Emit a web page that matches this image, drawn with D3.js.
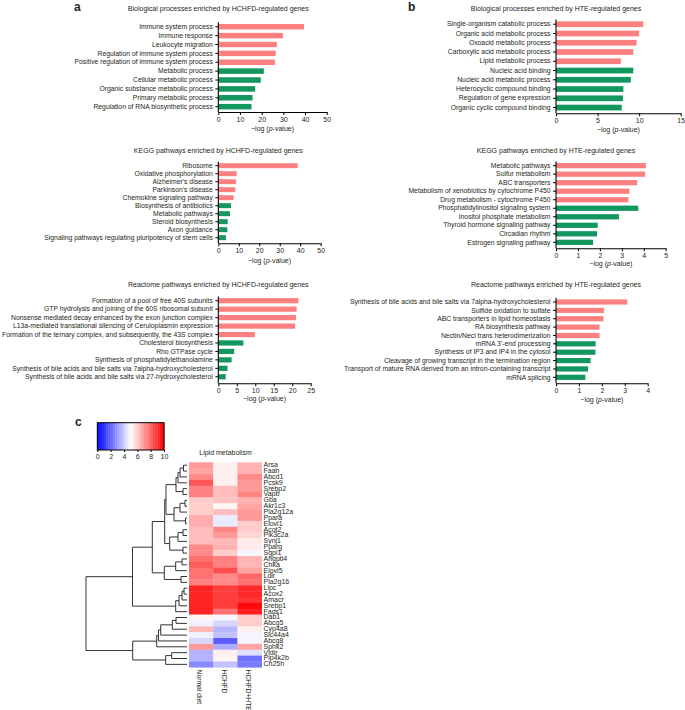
<!DOCTYPE html>
<html><head><meta charset="utf-8">
<script src="https://cdn.jsdelivr.net/npm/d3@7"></script>
<style>
body{margin:0;background:#fff}
svg{display:block}
text{font-family:"Liberation Sans",Arial,Helvetica,sans-serif;fill:#231f20}
</style>
</head><body>
<svg id="chart" width="685" height="710"></svg>
<script>
// ---------------- DATA ----------------
const groupsUpDown = ["up","up","up","up","up","down","down","down","down","down"];

const bpHCHFDTerms = ["Immune system process","Immune response","Leukocyte migration","Regulation of immune system process","Positive regulation of immune system process","Metabolic process","Cellular metabolic process","Organic substance metabolic process","Primary metabolic process","Regulation of RNA biosynthetic process"];
const bpHCHFDValues = [39.5, 29.8, 27.0, 26.5, 26.1, 21.0, 19.6, 17.0, 15.8, 15.3];
const bpHCHFDTicks = [0,10,20,30,40,50];

const bpHTETerms = ["Single-organism catabolic process","Organic acid metabolic process","Oxoacid metabolic process","Carboxylic acid metabolic process","Lipid metabolic process","Nucleic acid binding","Nucleic acid metabolic process","Heterocyclic compound binding","Regulation of gene expression","Organic cyclic compound binding"];
const bpHTEValues = [10.5, 10.0, 9.7, 9.3, 7.8, 9.3, 9.0, 8.1, 8.05, 7.9];
const bpHTETicks = [0,5,10,15];

const keggHCHFDTerms = ["Ribosome","Oxidative phosphorylation","Alzheimer's disease","Parkinson's disease","Chemokine signaling pathway","Biosynthesis of antibiotics","Metabolic pathways","Steroid biosynthesis","Axon guidance","Signaling pathways regulating pluripotency of stem cells"];
const keggHCHFDValues = [38.8, 9.0, 8.6, 8.3, 7.5, 6.2, 5.7, 4.6, 4.4, 3.7];
const keggHCHFDTicks = [0,10,20,30,40,50];

const keggHTETerms = ["Metabolic pathways","Sulfur metabolism","ABC transporters","Metabolism of xenobiotics by cytochrome P450","Drug metabolism - cytochrome P450","Phosphatidylinositol signaling system","Inositol phosphate metabolism","Thyroid hormone signaling pathway","Circadian rhythm","Estrogen signaling pathway"];
const keggHTEValues = [4.1, 4.06, 3.7, 3.35, 3.3, 3.75, 2.87, 1.9, 1.87, 1.69];
const keggHTETicks = [0,1,2,3,4,5];

const reactHCHFDTerms = ["Formation of a pool of free 40S subunits","GTP hydrolysis and joining of the 60S ribosomal subunit","Nonsense mediated decay enhanced by the exon junction complex","L13a-mediated translational silencing of Ceruloplasmin expression","Formation of the ternary complex, and subsequently, the 43S complex","Cholesterol biosynthesis","Rho GTPase cycle","Synthesis of phosphatidylethanolamine","Synthesis of bile acids and bile salts via 7alpha-hydroxycholesterol","Synthesis of bile acids and bile salts via 27-hydroxycholesterol"];
const reactHCHFDValues = [21.7, 21.2, 21.0, 20.8, 9.9, 6.8, 4.3, 3.6, 2.5, 2.0];
const reactHCHFDTicks = [0,5,10,15,20,25];

const reactHTETerms = ["Synthesis of bile acids and bile salts via 7alpha-hydroxycholesterol","Sulfide oxidation to sulfate","ABC transporters in lipid homeostasis","RA biosynthesis pathway","Nectin/Necl trans heterodimerization","mRNA 3'-end processing","Synthesis of IP3 and IP4 in the cytosol","Cleavage of growing transcript in the termination region","Transport of mature RNA derived from an intron-containing transcript","mRNA splicing"];
const reactHTEValues = [3.11, 2.09, 2.07, 1.9, 1.9, 1.73, 1.72, 1.51, 1.4, 1.28];
const reactHTETicks = [0,1,2,3,4];

const conditions = ["Normal diet","HCHFD","HCHFD+HTE"];
const genes = ["Arsa","Faah","Abcd1","Pcsk9","Srebp2","Vapb","Gba","Akr1c3","Pla2g12a","Ppara","Elovl1","Acot2","Pik3c2a","Synj1","Pparg","Sgpl1","Angptl4","Chka","Elovl5","Ldlr","Pla2g16","Lipc","Acox2","Amacr","Srebp1","Fads1","Dab1","Abcg5","Cyp4a8","Slc44a4","Abcg8","Sphk2","Vldlr","Pip4k2b","Ch25h"];
const expression = [
 [7.0,5.3,6.5],[6.8,5.3,6.5],[7.3,5.3,7.3],[8.3,5.3,7.0],[7.5,6.3,7.0],[7.5,6.3,7.4],
 [6.0,6.2,6.5],[6.0,5.2,6.8],[6.0,6.3,7.0],[6.6,4.6,7.0],[6.6,4.6,6.0],
 [6.3,7.4,6.0],[6.3,7.0,5.8],[6.3,6.4,5.4],[7.3,6.5,5.4],[7.3,6.0,4.8],
 [7.8,7.5,6.5],[8.2,7.5,6.4],[7.8,8.5,6.8],[7.8,7.3,8.0],[7.5,7.3,7.8],
 [9.3,8.8,9.2],[9.3,8.8,9.2],[9.3,8.8,9.0],[9.3,8.8,9.8],[9.3,7.8,9.4],
 [5.2,4.8,6.0],[4.7,4.2,6.0],[6.4,3.6,5.3],[4.7,3.8,4.8],[4.2,1.8,4.8],
 [7.0,3.4,6.8],[3.5,5.3,4.4],[3.5,5.2,2.2],[2.7,3.8,2.4]
];
const colorbarTicks = [0,2,4,6,8,10];
// hierarchical clustering: [height, left, right]
const dendro =
[10.1,
  [5.45,
    [3.47,
      [2.23,
        [2.1,
          [1.1, [0.9, [0.7, [0.35,"Arsa","Faah"],"Abcd1"],"Pcsk9"], [0.4,"Srebp2","Vapb"]],
          [1.3, [0.7, [0.2,"Gba","Akr1c3"],"Pla2g12a"], [0.15,"Ppara","Elovl1"]]
        ],
        [1.73, [0.9, [0.4,"Acot2","Pik3c2a"],"Synj1"], [0.4,"Pparg","Sgpl1"]]
      ],
      [2.27, [1.13, [0.5,"Angptl4","Chka"],"Elovl5"], [0.6,"Ldlr","Pla2g16"]]
    ],
    [1.13, [0.8, [0.5, [0.3,"Lipc","Acox2"],"Amacr"],"Srebp1"],"Fads1"]
  ],
  [5.43,
    [3.03, [2.85, [2.63, [1.47, [1.1,"Dab1","Abcg5"],"Cyp4a8"],"Slc44a4"],"Abcg8"],"Sphk2"],
    [2.13, [1.53,"Vldlr","Pip4k2b"],"Ch25h"]
  ]
];

// ---------------- DRAW ----------------
const svg = d3.select("#chart");
const PINK = "#fd8080", GREEN = "#12985f", INK = "#231f20";
const FS = 6.8;

const panels = [
 {title:"Biological processes enriched by HCHFD-regulated genes", terms:bpHCHFDTerms, values:bpHCHFDValues, ticks:bpHCHFDTicks,
  x0:218.3, x1:326.7, yTop:22.3, yBot:111.1, base:112, titleY:9.3, xlabY:128.5},
 {title:"Biological processes enriched by HTE-regulated genes", terms:bpHTETerms, values:bpHTEValues, ticks:bpHTETicks,
  x0:556, x1:680.7, yTop:19.6, yBot:112.2, base:113.3, titleY:9.3, xlabY:129.5},
 {title:"KEGG pathways enriched by HCHFD-regulated genes", terms:keggHCHFDTerms, values:keggHCHFDValues, ticks:keggHCHFDTicks,
  x0:218.3, x1:320.7, yTop:161.7, yBot:241.7, base:243.3, titleY:150.7, xlabY:261},
 {title:"KEGG pathways enriched by HTE-regulated genes", terms:keggHTETerms, values:keggHTEValues, ticks:keggHTETicks,
  x0:556, x1:665.7, yTop:161.4, yBot:246.6, base:248.3, titleY:150.7, xlabY:264},
 {title:"Reactome pathways enriched by HCHFD-regulated genes", terms:reactHCHFDTerms, values:reactHCHFDValues, ticks:reactHCHFDTicks,
  x0:218.3, x1:310.7, yTop:296.5, yBot:381, base:383.3, titleY:285, xlabY:398.7},
 {title:"Reactome pathways enriched by HTE-regulated genes", terms:reactHTETerms, values:reactHTEValues, ticks:reactHTETicks,
  x0:556, x1:647.7, yTop:297.8, yBot:381.5, base:383.3, titleY:285, xlabY:400}
];

panels.forEach(p => {
  const g = svg.append("g");
  const x = d3.scaleLinear().domain([p.ticks[0], p.ticks[p.ticks.length-1]]).range([p.x0, p.x1]);
  const y = d3.scaleBand().domain(p.terms).range([p.yTop, p.yBot]).paddingInner(0.38).paddingOuter(0.19);
  g.append("text").attr("x", p.x0).attr("y", p.titleY).attr("text-anchor","middle")
    .attr("dominant-baseline","middle").attr("font-size", 7).attr("fill", INK).text(p.title);
  g.selectAll("rect.bar").data(p.terms).join("rect").attr("class","bar")
    .attr("x", x(0)).attr("y", d => y(d))
    .attr("width", (d,i) => x(p.values[i]) - x(0)).attr("height", y.bandwidth())
    .attr("fill", (d,i) => groupsUpDown[i] === "up" ? PINK : GREEN);
  const ya = g.append("g").attr("transform", `translate(${p.x0},0)`)
    .call(d3.axisLeft(y).tickSize(3).tickSizeOuter(0).tickPadding(2.5));
  ya.select(".domain").remove();
  ya.selectAll("text").attr("font-size", FS).attr("font-family", null).attr("fill", INK);
  ya.selectAll("line").attr("stroke","#000");
  g.append("line").attr("x1", p.x0).attr("x2", p.x0).attr("y1", p.yTop).attr("y2", p.base)
    .attr("stroke","#000").attr("stroke-width",1.1);
  const xa = g.append("g").attr("transform", `translate(0,${p.base})`)
    .call(d3.axisBottom(x).tickValues(p.ticks).tickFormat(d3.format("d")).tickSize(3).tickSizeOuter(0).tickPadding(2));
  xa.select(".domain").attr("stroke","#000").attr("stroke-width",1.1);
  xa.selectAll("text").attr("font-size", 7).attr("font-family", null).attr("fill", INK);
  xa.selectAll("line").attr("stroke","#000");
  const xl = g.append("text").attr("x", (p.x0+p.x1)/2).attr("y", p.xlabY).attr("text-anchor","middle")
    .attr("dominant-baseline","middle").attr("font-size", 7).attr("fill", INK);
  xl.append("tspan").text("\u2212log (");
  xl.append("tspan").attr("font-style","italic").text("p");
  xl.append("tspan").text("-value)");
});

// panel letters
[["a",74,11],["b",408,11],["c",75,426]].forEach(([t,xx,yy]) => {
  svg.append("text").attr("x",xx).attr("y",yy).attr("font-size",12).attr("font-weight","bold").attr("fill","#000").text(t);
});

// ---------------- HEATMAP ----------------
const color = d3.scaleLinear().domain([0,5,10]).range(["#0000ff","#ffffff","#ff0000"]).clamp(true);
const hx = d3.scaleBand().domain(conditions).range([189, 261.7]);
const hy = d3.scaleBand().domain(genes).range([462.3, 667.3]);
const hm = svg.append("g");
genes.forEach((gname, i) => {
  conditions.forEach((c, j) => {
    hm.append("rect").attr("x", hx(c)).attr("y", hy(gname))
      .attr("width", hx.bandwidth()+0.3).attr("height", hy.bandwidth()+0.3)
      .attr("fill", color(expression[i][j]));
  });
});
hm.selectAll("text.gene").data(genes).join("text").attr("class","gene")
  .attr("x", 263.5).attr("y", d => hy(d) + hy.bandwidth()/2)
  .attr("dominant-baseline","middle").attr("font-size", 7).attr("fill", INK).text(d => d);
hm.selectAll("text.cond").data(conditions).join("text").attr("class","cond")
  .attr("transform", d => `translate(${hx(d)+hx.bandwidth()/2 - 2},669.5) rotate(90)`)
  .attr("dominant-baseline","middle").attr("font-size", 6.8).attr("fill", INK).text(d => d);
hm.append("text").attr("x", 225.5).attr("y", 453.5).attr("text-anchor","middle")
  .attr("dominant-baseline","middle").attr("font-size", 7).attr("fill", INK).text("Lipid metabolism");

// colour bar
const cbx = d3.scaleLinear().domain([0,10]).range([97.3,164]);
const cbSteps = d3.range(0, 10, 10/30);
svg.append("g").selectAll("rect").data(cbSteps).join("rect")
  .attr("x", d => cbx(d)).attr("y", 422.7).attr("width", cbx(10/30)-cbx(0)+0.3).attr("height", 27.3)
  .attr("fill", d => color(d + 5/30));
svg.append("rect").attr("x", cbx(0)).attr("y", 422.7).attr("width", cbx(10)-cbx(0)).attr("height", 27.3)
  .attr("fill","none").attr("stroke","#000").attr("stroke-width",1);
const cba = svg.append("g").attr("transform","translate(0,450)")
  .call(d3.axisBottom(cbx).tickValues(colorbarTicks).tickFormat(d3.format("d")).tickSize(2).tickSizeOuter(0).tickPadding(2));
cba.select(".domain").remove();
cba.selectAll("text").attr("font-size", 7).attr("font-family", null).attr("fill", INK);
cba.selectAll("line").attr("stroke","#000");

// dendrogram
const dx = d3.scaleLinear().domain([0, 10.1]).range([187, 86]);
const dg = svg.append("g").attr("stroke","#333").attr("stroke-width",1).attr("fill","none");
function layout(node) {
  if (typeof node === "string") return {h:0, y: hy(node) + hy.bandwidth()/2};
  const [h, l, r] = node;
  const a = layout(l), b = layout(r);
  dg.append("line").attr("x1", dx(h)).attr("x2", dx(h)).attr("y1", a.y).attr("y2", b.y);
  dg.append("line").attr("x1", dx(h)).attr("x2", dx(a.h)).attr("y1", a.y).attr("y2", a.y);
  dg.append("line").attr("x1", dx(h)).attr("x2", dx(b.h)).attr("y1", b.y).attr("y2", b.y);
  return {h, y: (a.y + b.y)/2};
}
layout(dendro);
</script>
</body></html>
